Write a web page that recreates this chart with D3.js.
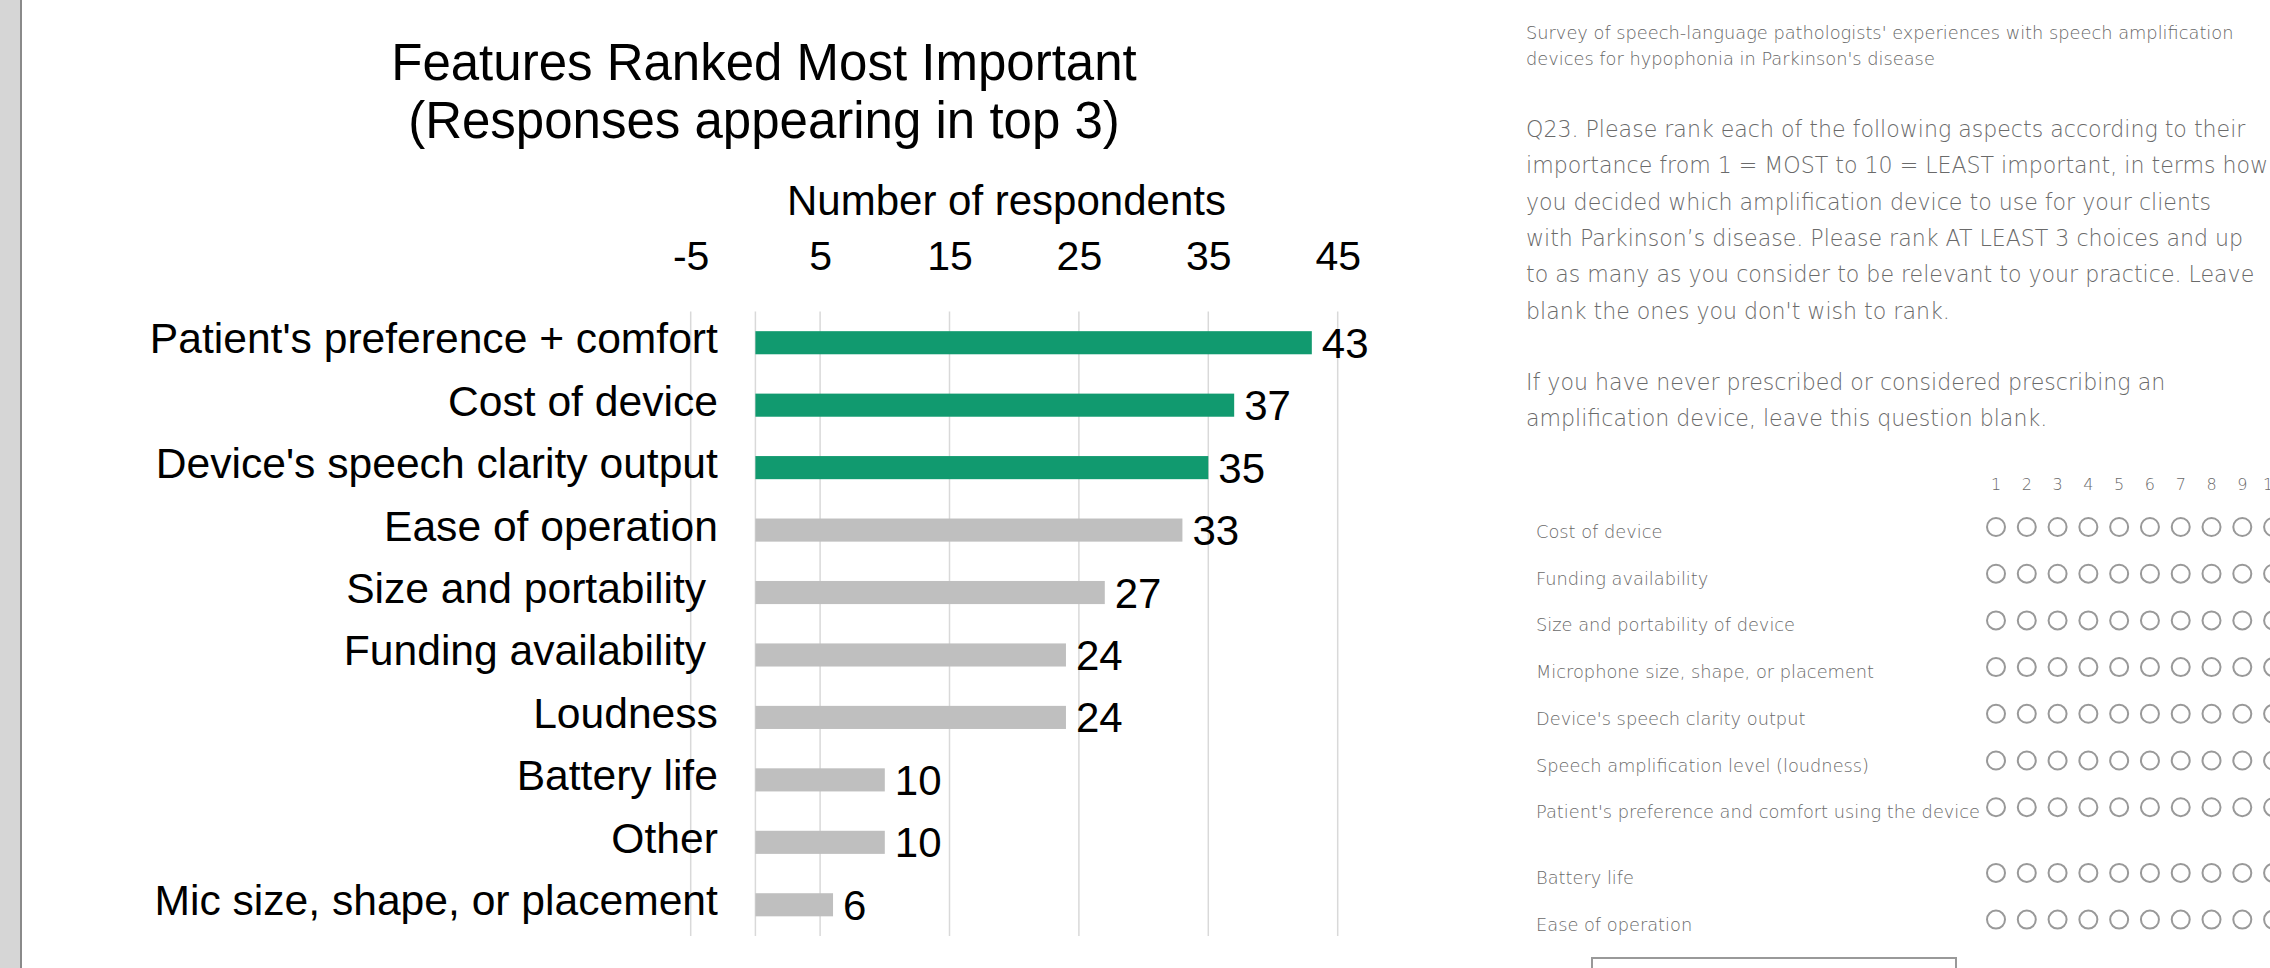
<!DOCTYPE html>
<html>
<head>
<meta charset="utf-8">
<script src="https://cdn.jsdelivr.net/npm/d3@7"></script>
<style>
  body { margin: 0; background: #fff; overflow: hidden; }
  svg { display: block; }
  .chart text { font-family: "Liberation Sans", Arial, sans-serif; fill: #000; }
  .survey text { font-family: "DejaVu Sans", "Open Sans", sans-serif; font-weight: 200; }
</style>
</head>
<body>
<svg id="page" width="2270" height="968"></svg>
<script>
// chart data
const categories = [
    "Patient's preference + comfort",
    "Cost of device",
    "Device's speech clarity output",
    "Ease of operation",
    "Size and portability ",
    "Funding availability ",
    "Loudness",
    "Battery life",
    "Other",
    "Mic size, shape, or placement"
];
const respondents = [43, 37, 35, 33, 27, 24, 24, 10, 10, 6];
const topCount = 3; // first 3 bars are highlighted
const tickValues = [-5, 5, 15, 25, 35, 45];
const titleLines = ["Features Ranked Most Important", "(Responses appearing in top 3)"];
const axisTitle = "Number of respondents";

// survey form text on the right
const surveyHeader = [
    "Survey of speech-language pathologists' experiences with speech amplification",
    "devices for hypophonia in Parkinson's disease"
];
const questionLines = [
    "Q23. Please rank each of the following aspects according to their",
    "importance from 1 = MOST to 10 = LEAST important, in terms how",
    "you decided which amplification device to use for your clients",
    "with Parkinson\u2019s disease. Please rank AT LEAST 3 choices and up",
    "to as many as you consider to be relevant to your practice. Leave",
    "blank the ones you don't wish to rank."
];
const noteLines = [
    "If you have never prescribed or considered prescribing an",
    "amplification device, leave this question blank."
];
const rankNumbers = [1, 2, 3, 4, 5, 6, 7, 8, 9, 10];
const surveyItems = [
    "Cost of device",
    "Funding availability",
    "Size and portability of device",
    "Microphone size, shape, or placement",
    "Device's speech clarity output",
    "Speech amplification level (loudness)",
    "Patient's preference and comfort using the device",
    "Battery life",
    "Ease of operation"
];

const svg = d3.select("#page");

// grey edge of the window on the left
svg.append("rect").attr("x", 0).attr("y", 0).attr("width", 20).attr("height", 968).attr("fill", "#d6d6d6");
svg.append("rect").attr("x", 20).attr("y", 0).attr("width", 2).attr("height", 968).attr("fill", "#8a8a8a");

// ---------- bar chart ----------
const chart = svg.append("g").attr("class", "chart");

const x = d3.scaleLinear()
    .domain([-5, 45])
    .range([690.7, 1337.7]);

const y = d3.scaleBand()
    .domain(categories)
    .range([311.5, 936])
    .paddingInner(0.63)
    .paddingOuter(0.315);

// gridlines (the one at 0 is the value axis)
chart.selectAll(".grid")
    .data(tickValues.concat([0]))
    .enter().append("line")
    .attr("class", "grid")
    .attr("x1", d => x(d)).attr("x2", d => x(d))
    .attr("y1", 311.5).attr("y2", 936)
    .attr("stroke", "#d9d9d9")
    .attr("stroke-width", 1.5);

// tick labels along the top
const axis = chart.append("g")
    .attr("transform", "translate(0,270)")
    .call(d3.axisTop(x).tickValues(tickValues).tickFormat(d => String(d)).tickSize(0).tickPadding(0));
axis.select(".domain").remove();
axis.attr("font-family", null).attr("font-size", null);
axis.selectAll("text").style("font-size", "41px").attr("fill", "#000");

chart.append("text")
    .attr("x", 1006.5).attr("y", 215)
    .attr("text-anchor", "middle")
    .style("font-size", "42px")
    .text(axisTitle);

chart.selectAll(".title")
    .data(titleLines)
    .enter().append("text")
    .attr("class", "title")
    .attr("x", 764)
    .attr("y", (d, i) => 80 + i * 58)
    .attr("text-anchor", "middle")
    .style("font-size", "51px")
    .text(d => d);

chart.selectAll(".bar")
    .data(respondents)
    .enter().append("rect")
    .attr("class", "bar")
    .attr("x", x(0))
    .attr("y", (d, i) => y(categories[i]))
    .attr("width", d => x(d) - x(0))
    .attr("height", y.bandwidth())
    .attr("fill", (d, i) => i < topCount ? "#119a6f" : "#bfbfbf");

chart.selectAll(".value")
    .data(respondents)
    .enter().append("text")
    .attr("class", "value")
    .attr("x", d => x(d) + 10)
    .attr("y", (d, i) => y(categories[i]) + y.bandwidth() / 2 + 15)
    .style("font-size", "42px")
    .text(d => d);

chart.selectAll(".cat")
    .data(categories)
    .enter().append("text")
    .attr("class", "cat")
    .attr("x", x(0) - 37.5)
    .attr("y", d => y(d) + y.bandwidth() / 2 + 10.5)
    .attr("text-anchor", "end")
    .attr("xml:space", "preserve")
    .style("white-space", "pre")
    .style("font-size", "42.6px")
    .text(d => d);

// ---------- survey form ----------
const survey = svg.append("g").attr("class", "survey");

survey.selectAll(".hdr")
    .data(surveyHeader)
    .enter().append("text")
    .attr("x", 1526)
    .attr("y", (d, i) => 39 + i * 26)
    .attr("fill", "#666")
    .style("font-size", "17.8px")
    .text(d => d);

survey.selectAll(".q")
    .data(questionLines)
    .enter().append("text")
    .attr("x", 1526)
    .attr("y", (d, i) => 137 + i * 36.3)
    .attr("fill", "#6a6a6a")
    .style("font-size", "22.1px")
    .text(d => d);

survey.selectAll(".note")
    .data(noteLines)
    .enter().append("text")
    .attr("x", 1526)
    .attr("y", (d, i) => 390 + i * 36.3)
    .attr("fill", "#6a6a6a")
    .style("font-size", "22.1px")
    .text(d => d);

const rx = d3.scaleLinear().domain([1, 9]).range([1996, 2242.3]);
const rowY = i => 527 + i * 46.7 + (i > 6 ? 19 : 0);

survey.selectAll(".num")
    .data(rankNumbers)
    .enter().append("text")
    .attr("x", d => rx(d))
    .attr("y", 490)
    .attr("text-anchor", "middle")
    .attr("fill", "#6a6a6a")
    .style("font-size", "16px")
    .text(d => d);

const rows = survey.selectAll(".row")
    .data(surveyItems)
    .enter().append("g")
    .attr("class", "row")
    .attr("transform", (d, i) => `translate(0,${rowY(i)})`);

rows.append("text")
    .attr("x", 1536)
    .attr("y", 11)
    .attr("fill", "#6a6a6a")
    .style("font-size", "17.8px")
    .text(d => d);

rows.selectAll("circle")
    .data(rankNumbers)
    .enter().append("circle")
    .attr("cx", d => rx(d))
    .attr("cy", 0)
    .attr("r", 9)
    .attr("fill", "none")
    .attr("stroke", "#999")
    .attr("stroke-width", 2);

// top of the submit button, cut by the window
survey.append("rect")
    .attr("x", 1592).attr("y", 958)
    .attr("width", 364).attr("height", 40)
    .attr("fill", "none")
    .attr("stroke", "#999")
    .attr("stroke-width", 2);
</script>
</body>
</html>
